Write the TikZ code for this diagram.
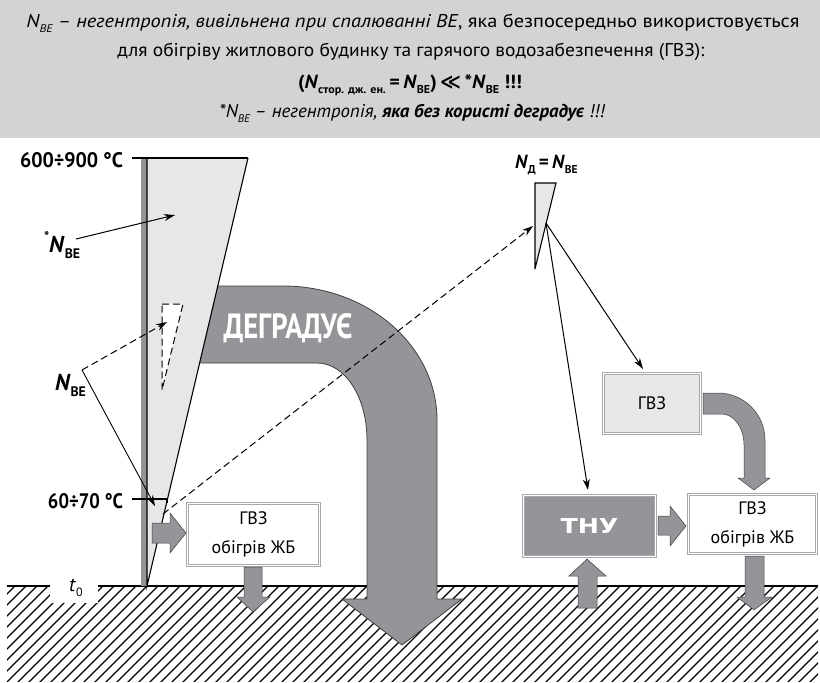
\documentclass[tikz,border=0pt]{standalone}
\usepackage{fontspec}
\usepackage{graphicx}
\setmainfont{PT Sans}
\newfontfamily\symfont{DejaVu Sans}
\newfontfamily\widefont{DejaVu Sans}
\usetikzlibrary{arrows.meta}
\definecolor{hdrgray}{HTML}{D1D3D4}
\definecolor{lightfill}{HTML}{E6E7E8}
\definecolor{darkfill}{HTML}{939598}
\definecolor{boxline}{HTML}{A7A9AC}
% stretch a line of text to a given width, keeping its height
\newcommand{\fitw}[2]{\resizebox{#1}{\height}{#2}}
% lowered small index
\newcommand{\lo}[1]{\raisebox{-0.28em}{\scalebox{0.6}{#1}}}

\begin{document}
\begin{tikzpicture}[x=1pt,y=-1pt,
  txt/.style={inner sep=0pt, outer sep=0pt},
  box/.style={draw=boxline, line width=0.8pt, double=white, double distance=1.6pt,
              inner sep=0pt, align=center, font=\fontsize{18}{29}\selectfont},
  blockarrow/.style={fill=darkfill, draw=black!75, line width=0.5pt},
  pointer/.style={line width=1pt, -{Stealth[length=11pt,width=7pt]}},
  hatchline/.style={line width=1.1pt},
  groundline/.style={line width=1.4pt},
  edge/.style={line width=1.1pt},
  dashline/.style={line width=1pt, dash pattern=on 7pt off 4pt}
]
\useasboundingbox (0,0) rectangle (820,683);

% ---------- header ----------
\fill[hdrgray] (0,0) rectangle (820,138);
\node[txt,anchor=base] (h1) at (413,27) {\fitw{773pt}{\fontsize{18.5}{20}\selectfont\textit{N\lo{BE} – негентропія, вивільнена при спалюванні ВЕ}, яка безпосередньо використовується}};
\node[txt,anchor=base] (h2) at (411,56) {\fitw{587pt}{\fontsize{18.5}{20}\selectfont для обігріву житлового будинку та гарячого водозабезпечення (ГВЗ):}};
\node[txt,anchor=base] (h3) at (410,88) {\fitw{224pt}{\fontsize{19}{20}\selectfont\bfseries (\textit{N}\lo{стор. дж. ен.}\,=\,\textit{N}\lo{BE})\,{\symfont\bfseries ≪}\,*\textit{N}\lo{BE} !!!}};
\node[txt,anchor=base] (h4) at (412,117) {\fitw{385pt}{\fontsize{18.5}{20}\selectfont\itshape *N\lo{BE} – негентропія, \textbf{яка без користі деградує} !!!}};

% ---------- ground ----------
\begin{scope}
  \clip (7,586) rectangle (818,681);
  \foreach \i in {-100,-89,...,820} \draw[hatchline] (\i,690) -- ++(110,-110);
\end{scope}
\fill[white] (50,584) rectangle (98,603);
\draw[groundline] (7,586) -- (50,586) (98,586) -- (818,586);
\node[txt] (t0) at (76,588) {\fontsize{20}{20}\selectfont\textit{t}\lo{0}};

% ---------- degrading flow ----------
\draw[blockarrow, line width=0.8pt] (195,286) -- (283,286)
  .. controls (368,286) and (437,346) .. (437,420)
  -- (437,599) -- (462,599) -- (402,645) -- (342,599) -- (367,599) -- (367,440)
  .. controls (367,397) and (345,363) .. (317,363) -- (185,363) -- cycle;
\node[txt,anchor=base,text=white] (degr) at (288,338) {\resizebox{129pt}{25pt}{\bfseries ДЕГРАДУЄ}};

% ---------- temperature wedge ----------
\fill[darkfill] (141,158) rectangle (146.5,586);
\fill[lightfill] (147,158) -- (248,158) -- (147,586) -- cycle;
\draw[edge] (248,158) -- (147,586) -- (147,158);
\draw[edge] (132,158) -- (248,158);
\draw[edge] (132,499) -- (167,499) -- (167,503);
\node[txt,anchor=base west] (t900) at (20,167) {\fitw{103pt}{\fontsize{21}{21}\selectfont\bfseries 600÷900 °C}};
\node[txt,anchor=base east] (t70) at (123,508) {\fitw{75pt}{\fontsize{21}{21}\selectfont\bfseries 60÷70 °C}};

% useful part of the wedge
\draw[dashline, fill=white] (162,304) -- (183,304) -- (162,390) -- cycle;

% labels and pointers
\node[txt,anchor=base west] (nstar) at (44,252) {\fontsize{23}{23}\selectfont\bfseries\raisebox{0.45em}{\scalebox{0.6}{*}}\textit{N}\lo{BE}};
\node[txt,anchor=base west] (nbe) at (55,390) {\fontsize{23}{23}\selectfont\bfseries\textit{N}\lo{BE}};
\coordinate (starFrom) at (76,239);
\coordinate (starTip) at (175,215);
\coordinate (nbeV) at (82,370);
\coordinate (dashTip) at (167,322);
\coordinate (lowTip) at (155,506);
\draw[pointer] (starFrom) -- (starTip);
\draw[pointer, line width=0.9pt] (nbeV) -- (lowTip);
\draw[dashline, -{Stealth[length=11pt,width=7pt]}] (nbeV) -- (dashTip);

% heat to the house
\draw[blockarrow] (152,523) -- (170,523) -- (170,513) -- (186,533) -- (170,553) -- (170,543) -- (152,543) -- cycle;
\node[box, fill=white, minimum width=132pt, minimum height=62pt] (boxL) at (253.5,534.5) {ГВЗ\\обігрів ЖБ};
\draw[blockarrow] (244,567) -- (262,567) -- (262,597) -- (270,597) -- (253,612) -- (237,597) -- (244,597) -- cycle;

% ---------- heat pump branch ----------
\node[txt,anchor=base west] (nd) at (515,168) {\fontsize{19}{19}\selectfont\bfseries\textit{N}\lo{Д}\,=\,\textit{N}\lo{BE}};
\fill[lightfill] (535,183) -- (556,183) -- (535,269) -- cycle;
\draw[edge] (535,269) -- (535,183) -- (556,183) -- (535,269);

\coordinate (dStart) at (163,514);
\coordinate (dTip) at (533,226);
\draw[dashline, -{Stealth[length=11pt,width=7pt]}] (dStart) -- (dTip);

\node[box, fill=lightfill, minimum width=97pt, minimum height=60pt] (gvzTop) at (652,403.5) {ГВЗ};
\node[box, fill=darkfill, minimum width=132pt, minimum height=61pt] (thu) at (589.5,526) {\fitw{58pt}{\fontsize{20.5}{21}\widefont\bfseries\color{white}ТНУ}};
\node[box, fill=white, minimum width=128pt, minimum height=59pt] (boxR) at (752.5,524) {ГВЗ\\обігрів ЖБ};

\coordinate (split) at (546,223);
\coordinate (gvzTip) at (643,369);
\coordinate (thuTip) at (588,490);
\draw[pointer] (split) -- (gvzTip);
\draw[pointer] (split) -- (thuTip);

\draw[blockarrow] (703,393) -- (718,393) .. controls (744,393) and (765,414) .. (765,440)
  -- (765,478) -- (770,478) -- (754,490) -- (738,478) -- (744,478) -- (744,445)
  .. controls (744,428) and (734,414) .. (722,414) -- (703,414) -- cycle;
\draw[blockarrow] (658,516) -- (670,516) -- (670,506) -- (686,526) -- (670,546) -- (670,535) -- (658,535) -- cycle;
\draw[blockarrow] (745,556) -- (764,556) -- (764,597) -- (772,597) -- (754,610) -- (737,597) -- (745,597) -- cycle;
\draw[blockarrow] (578,608) -- (597,608) -- (597,576) -- (606,576) -- (587,559) -- (569,576) -- (578,576) -- cycle;
\end{tikzpicture}
\end{document}
